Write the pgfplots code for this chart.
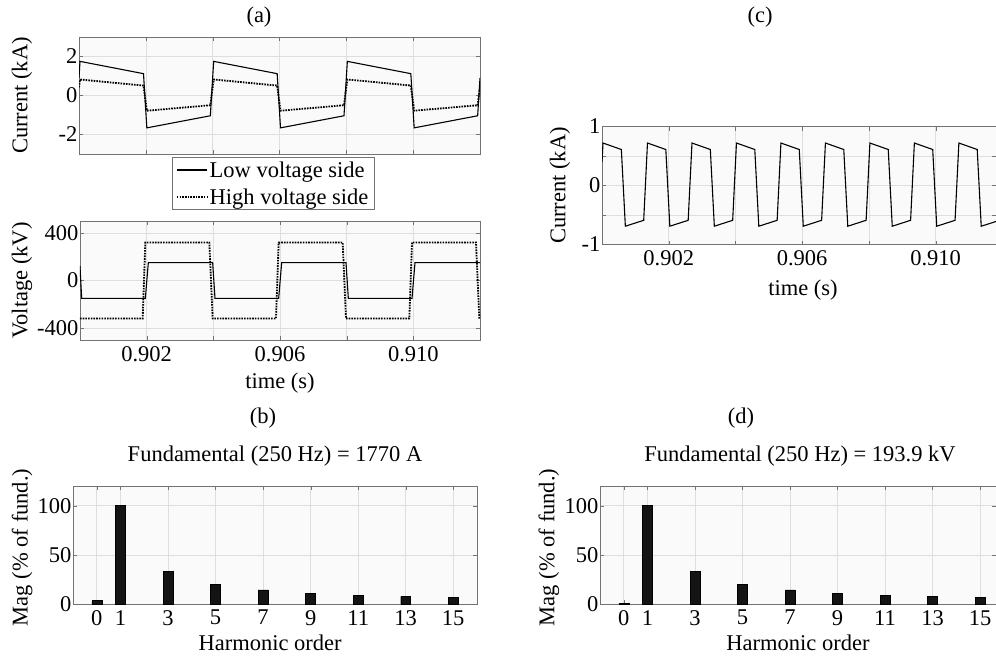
\documentclass[border=0pt]{standalone}
\usepackage{pgfplots}
\pgfplotsset{compat=1.18}
\usepackage{fontspec}
\setmainfont{Liberation Serif}

\newcommand{\figfont}{\fontsize{22.5}{27}\selectfont}
\pgfplotsset{
  panel/.style={scale only axis,anchor=north west,
    axis background/.style={fill=black!2},
    axis line style={black!55},tick style={black!55},
    grid=major,major grid style={black!13,line width=0.6pt},
    tick align=inside,major tick length=4pt,
    font=\figfont,
    xticklabel style={inner sep=1pt,yshift=-5pt},
    yticklabel style={inner sep=1.5pt},
    every axis plot/.append style={black,line width=1.1pt}},
  lvside/.style={black,line width=1.1pt},
  hvside/.style={black,line width=1.8pt,dash pattern=on 1.6pt off 1.1pt},
  harm/.style={ybar,bar width=0.42,fill=black!92,draw=black,line width=0.4pt},
}

\begin{document}
\begin{tikzpicture}
\useasboundingbox (0,0) rectangle (996pt,-658pt);

\node[font=\figfont] at (259pt,-17pt) {(a)};
\node[font=\figfont] at (760pt,-17pt) {(c)};
\node[font=\figfont] at (263pt,-418pt) {(b)};
\node[font=\figfont] at (741pt,-418pt) {(d)};

% (a) currents
\begin{axis}[panel,at={(79pt,-37pt)},width=401pt,height=117pt,
  xmin=0.900,xmax=0.912,ymin=-3,ymax=3,
  xtick={0.902,0.904,0.906,0.908,0.910},xticklabels={},
  ytick={-2,0,2},yticklabels={-2,0,2},
  ylabel={Current (kA)},ylabel style={at={(axis description cs:-0.142,0.5)},anchor=center}]
\addplot[lvside] coordinates {
 (0.90000,0.90) (0.90003,1.75) (0.90193,1.12) (0.90203,-1.66) (0.90393,-1.04)
 (0.90403,1.75) (0.90593,1.12) (0.90603,-1.66) (0.90793,-1.04)
 (0.90803,1.75) (0.90993,1.12) (0.91003,-1.66) (0.91193,-1.04) (0.91200,0.90)};
\addplot[hvside] coordinates {
 (0.90000,0.42) (0.90003,0.82) (0.90193,0.51) (0.90203,-0.78) (0.90393,-0.50)
 (0.90403,0.82) (0.90593,0.51) (0.90603,-0.78) (0.90793,-0.50)
 (0.90803,0.82) (0.90993,0.51) (0.91003,-0.78) (0.91193,-0.50) (0.91200,0.42)};
\end{axis}

% (a) voltages
\begin{axis}[panel,at={(80pt,-221pt)},width=400pt,height=119pt,
  xmin=0.900,xmax=0.912,ymin=-500,ymax=500,
  xtick={0.902,0.904,0.906,0.908,0.910},xticklabels={0.902,,0.906,,0.910},
  ytick={-400,0,400},yticklabels={-400,0,400},
  ylabel={Voltage (kV)},ylabel style={at={(axis description cs:-0.145,0.5)},anchor=center},
  xlabel={time (s)},xlabel style={at={(axis description cs:0.5,-0.36)},anchor=center},
  legend style={at={(0.483,1.536)},anchor=north,draw=black!55,fill=white,
    inner xsep=4pt,inner ysep=2pt,row sep=6pt,font=\figfont},
  legend cell align=left,
  legend image code/.code={\draw[#1] (0pt,0pt) -- (30pt,0pt);}]
\addplot[lvside] coordinates {
 (0.90000,120) (0.90005,-150) (0.90196,-150) (0.90205,150) (0.90398,150)
 (0.90405,-150) (0.90596,-150) (0.90605,150) (0.90798,150)
 (0.90805,-150) (0.90996,-150) (0.91005,150) (0.91200,150)};
\addplot[hvside] coordinates {
 (0.90000,-320) (0.90188,-320) (0.90196,320) (0.90388,320) (0.90398,-320)
 (0.90588,-320) (0.90596,320) (0.90788,320) (0.90798,-320)
 (0.90988,-320) (0.90996,320) (0.91188,320) (0.91198,-320) (0.91200,-320)};
\legend{Low voltage side,High voltage side}
\end{axis}

% (c) current
\begin{axis}[panel,at={(602pt,-126.5pt)},width=394pt,height=118pt,
  xmin=0.900,xmax=0.91181,ymin=-1,ymax=1,
  xtick={0.902,0.904,0.906,0.908,0.910},xticklabels={0.902,,0.906,,0.910},
  ytick={-1,-0.5,0,0.5,1},yticklabels={-1,,0,,1},
  ylabel={Current (kA)},ylabel style={at={(axis description cs:-0.107,0.5)},anchor=center},
  xlabel={time (s)},xlabel style={at={(axis description cs:0.51,-0.386)},anchor=center}]
\addplot[lvside] coordinates {
 (0.900000,0.40)
 (0.900030,0.72) (0.900580,0.61) (0.900700,-0.69) (0.901250,-0.59)
 (0.901363,0.72) (0.901913,0.61) (0.902033,-0.69) (0.902583,-0.59)
 (0.902697,0.72) (0.903247,0.61) (0.903367,-0.69) (0.903917,-0.59)
 (0.904030,0.72) (0.904580,0.61) (0.904700,-0.69) (0.905250,-0.59)
 (0.905363,0.72) (0.905913,0.61) (0.906033,-0.69) (0.906583,-0.59)
 (0.906697,0.72) (0.907247,0.61) (0.907367,-0.69) (0.907917,-0.59)
 (0.908030,0.72) (0.908580,0.61) (0.908700,-0.69) (0.909250,-0.59)
 (0.909363,0.72) (0.909913,0.61) (0.910033,-0.69) (0.910583,-0.59)
 (0.910697,0.72) (0.911247,0.61) (0.911367,-0.69) (0.911810,-0.61)};
\end{axis}

% (b) current spectrum
\begin{axis}[panel,at={(73pt,-486pt)},width=404pt,height=118pt,
  xmin=-1,xmax=16,ymin=0,ymax=120,
  xtick={0,1,3,5,7,9,11,13,15},ytick={0,50,100},
  xticklabels={0,1,3,5,7,9,11,13,15},yticklabels={0,50,100},
  title={Fundamental (250 Hz) = 1770 A},
  title style={at={(axis description cs:0.5,1.203)},anchor=center},
  ylabel={Mag (\% of fund.)},ylabel style={at={(axis description cs:-0.126,0.48)},anchor=center},
  xlabel={Harmonic order},xlabel style={at={(axis description cs:0.488,-0.33)},anchor=center}]
\addplot[harm] coordinates {(0,3.4) (1,100) (3,33.3) (5,20.0) (7,14.3) (9,11.1) (11,9.1) (13,7.7) (15,6.7)};
\end{axis}

% (d) voltage spectrum
\begin{axis}[panel,at={(600pt,-486pt)},width=396pt,height=118pt,
  xmin=-1,xmax=15.67,ymin=0,ymax=120,
  xtick={0,1,3,5,7,9,11,13,15},ytick={0,50,100},
  xticklabels={0,1,3,5,7,9,11,13,15},yticklabels={0,50,100},
  title={Fundamental (250 Hz) = 193.9 kV},
  title style={at={(axis description cs:0.505,1.203)},anchor=center},
  ylabel={Mag (\% of fund.)},ylabel style={at={(axis description cs:-0.129,0.48)},anchor=center},
  xlabel={Harmonic order},xlabel style={at={(axis description cs:0.5,-0.33)},anchor=center}]
\addplot[harm] coordinates {(0,0.6) (1,100) (3,33.3) (5,20.0) (7,14.3) (9,11.1) (11,9.1) (13,7.7) (15,6.7)};
\end{axis}
\end{tikzpicture}
\end{document}
